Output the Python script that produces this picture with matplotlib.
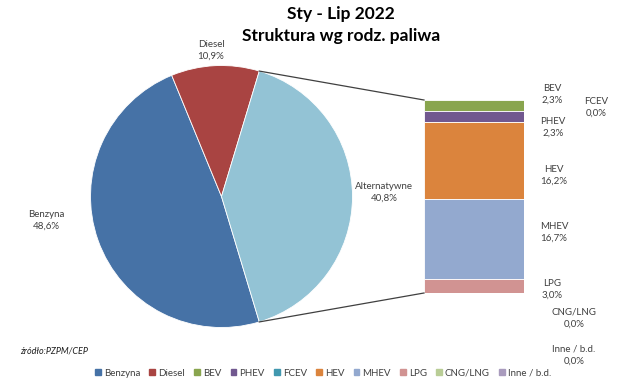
import numpy as np
import matplotlib.pyplot as plt
from matplotlib.lines import Line2D
from matplotlib.patches import Patch

plt.rcParams['font.family'] = ['Lato', 'DejaVu Sans']

# main pie
pie_labels = ['Benzyna', 'Diesel', 'Alternatywne']
pie_values = [48.6, 10.9, 40.8]
pie_colors = ['#4672A6', '#A94442', '#93C3D5']

# breakdown of "Alternatywne"
alt_labels = ['BEV', 'PHEV', 'FCEV', 'HEV', 'MHEV', 'LPG', 'CNG/LNG', 'Inne / b.d.']
alt_values = [2.3, 2.3, 0.0, 16.2, 16.7, 3.0, 0.0, 0.0]
alt_colors = ['#89A54E', '#71588F', '#4198AF', '#DB843D', '#93A9CF', '#D19392', '#B9CD96', '#A99BBD']

W, H = 643, 389
fig = plt.figure(figsize=(W / 100, H / 100), dpi=100)

def px(x, y):
    return x / W, 1 - y / H

# pie axes
cx, cy, r = 221.5, 196.5, 131
pax = fig.add_axes([(cx - r) / W, 1 - (cy + r) / H, 2 * r / W, 2 * r / H])
tot = sum(pie_values)
alt_frac = pie_values[2] / tot
start = alt_frac * 180 + (pie_values[0] + pie_values[1]) / tot * 360
wedges, _ = pax.pie(pie_values, colors=pie_colors, startangle=start, counterclock=False,
                    radius=1, wedgeprops=dict(linewidth=0.6, edgecolor='white'))
pax.set_xlim(-1, 1)
pax.set_ylim(-1, 1)
pax.set_aspect('auto')
pax.axis('off')

# stacked bar
bx0, bx1, by0, by1 = 424, 524, 100, 293
bax = fig.add_axes([bx0 / W, 1 - by1 / H, (bx1 - bx0) / W, (by1 - by0) / H])
bottom = 0
for lab, v, c in zip(alt_labels, alt_values, alt_colors):
    bax.bar(0, v, bottom=bottom, width=1, color=c, edgecolor='white', linewidth=0.6)
    bottom += v
bax.set_xlim(-0.5, 0.5)
bax.set_ylim(sum(alt_values), 0)
bax.axis('off')

# connector lines
ang = np.deg2rad(alt_frac * 180)
p_top = (cx + r * np.cos(ang), cy - r * np.sin(ang))
p_bot = (cx + r * np.cos(ang), cy + r * np.sin(ang))
for p, q in [(p_top, (bx0, by0)), (p_bot, (bx0, by1))]:
    a, b = px(*p), px(*q)
    fig.add_artist(Line2D([a[0], b[0]], [a[1], b[1]], color='#404040', lw=0.9,
                          transform=fig.transFigure))

def fmt(v):
    return f'{v:.1f}%'.replace('.', ',')

lab_kw = dict(fontsize=7, ha='center', va='center', color='#404040', linespacing=1.35)
pie_pos = [(46, 220), (211, 50), (384, 192)]
for lab, v, pos in zip(pie_labels, pie_values, pie_pos):
    fig.text(*px(*pos), f'{lab}\n{fmt(v)}', **lab_kw)

alt_pos = [(552, 94), (553, 127), (596, 107), (554, 175), (554, 232), (552, 289), (574, 318), (574, 355)]
for lab, v, pos in zip(alt_labels, alt_values, alt_pos):
    fig.text(*px(*pos), f'{lab}\n{fmt(v)}', **lab_kw)

fig.text(*px(341, 14), 'Sty - Lip 2022', fontsize=12.5, fontweight='bold', ha='center', va='center')
fig.text(*px(341, 36), 'Struktura wg rodz. paliwa', fontsize=12.5, fontweight='bold', ha='center', va='center')
fig.text(*px(20, 351), 'źródło:PZPM/CEP', fontsize=6.5, style='italic', ha='left', va='center', color='#202020')

handles = [Patch(color=c) for c in pie_colors[:2] + alt_colors]
names = pie_labels[:2] + alt_labels
fig.legend(handles, names, loc='center', bbox_to_anchor=px(323, 373), ncol=10, frameon=False,
           fontsize=7, handlelength=0.6, handleheight=0.6, handletextpad=0.3, columnspacing=0.95,
           labelcolor='#404040')

fig.savefig('out.png', dpi=100)
